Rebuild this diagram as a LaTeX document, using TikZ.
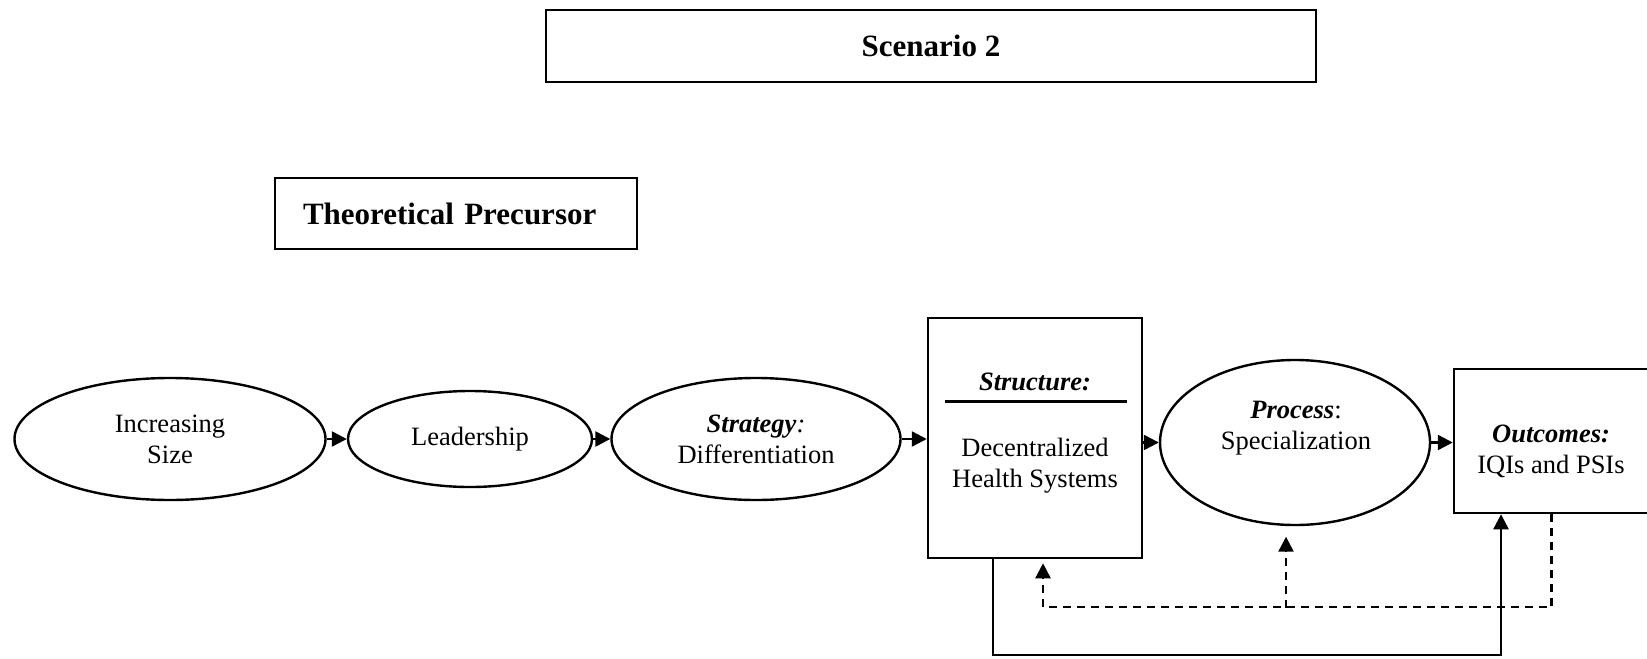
\documentclass[tikz,border=0pt]{standalone}
\usepackage{fontspec}
\setmainfont{Liberation Serif}
\usetikzlibrary{positioning,calc,shapes.geometric,arrows.meta}

\tikzset{
  txt/.style={align=center, inner sep=0pt, font=\fontsize{13.25}{15.5}\selectfont},
  oval/.style={txt, draw, ellipse, line width=1.2pt},
  blockbox/.style={draw, rectangle, line width=1.25pt, inner sep=0pt},
  titlebox/.style={blockbox, font=\fontsize{15.5}{18}\selectfont\bfseries},
  flow/.style={line width=1.2pt, -{Triangle[length=7.5pt,width=7.5pt]}},
  feedback/.style={flow, dash pattern=on 4pt off 3pt}
}

\begin{document}
\begin{tikzpicture}[x=0.5pt, y=-0.5pt]
  \useasboundingbox (0,0) rectangle (1647,658);
  \clip (0,0) rectangle (1647,658);

  % headings
  \node[titlebox, minimum width=385pt, minimum height=36pt] (scen) at (931,46) {Scenario 2};
  \node[titlebox, minimum height=35.5pt, text width=153pt, inner xsep=14pt, align=left]
    (prec) at (456,213.5) {Theoretical Precursor};

  % chain
  \node[oval, minimum width=155.5pt, minimum height=61pt] (size) at (170,439) {Increasing\\Size};
  \node[oval, minimum width=122pt, minimum height=48pt] (lead) at (470,439) {Leadership};
  \node[oval, minimum width=144.5pt, minimum height=61pt] (strat) at (756,439)
    {\textbf{\textit{Strategy}}\textit{:}\\Differentiation};
  \node[blockbox, minimum width=107pt, minimum height=120pt] (struct) at (1035,438) {};
  \node[txt] (structhead) at (1035,382) {\textbf{\textit{Structure:}}};
  \draw[line width=1.5pt] (945,401) -- (1127,401);
  \node[txt] (structbody) at (1035,466) {Decentralized\\Health Systems};
  \node[oval, minimum width=135pt, minimum height=82.5pt] (proc) at (1295,442.5) {};
  \node[txt] (proctxt) at (1296,428) {\textbf{\textit{Process}}:\\Specialization};
  \node[blockbox, minimum width=97.5pt, minimum height=72pt] (outc) at (1551.5,441) {};
  \node[txt] (outctxt) at (1551,451) {\textbf{\textit{Outcomes:}}\\IQIs and PSIs};

  \draw[flow] (size.east) -- (lead.west);
  \draw[flow] (lead.east) -- (strat.west);
  \draw[flow] (strat.east) -- (strat.east -| struct.west);
  \draw[flow] (proc.west -| struct.east) -- (proc.west);
  \draw[flow] (proc.east) -- (proc.east -| outc.west);

  % feedback loops
  \draw[flow] ($(struct.south)+(-42,0)$) |- ($(outc.south)+(-50.5,141)$) -- ($(outc.south)+(-50.5,0)$);
  \draw[feedback] (outc.south) |- ($(struct.south)+(8,48)$) -- ($(struct.south)+(8,4)$);
  \draw[feedback] ($(proc.south)+(-9,81.5)$) -- ($(proc.south)+(-9,10.5)$);
\end{tikzpicture}
\end{document}
